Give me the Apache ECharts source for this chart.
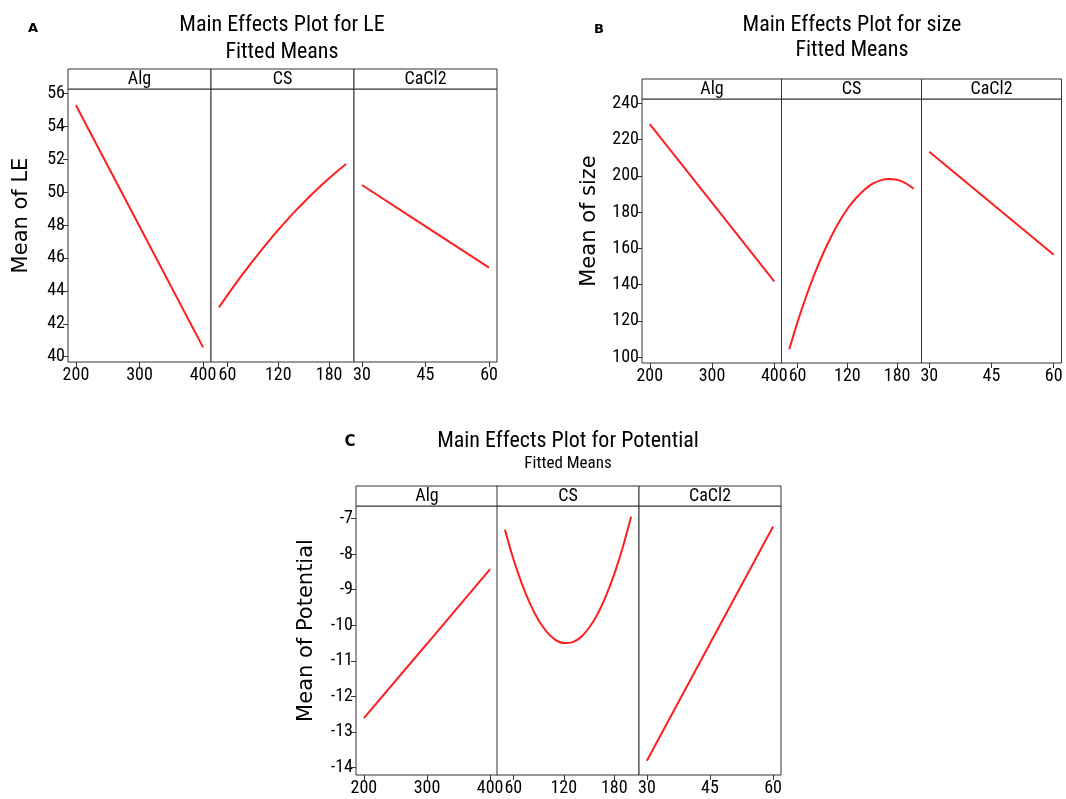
<!DOCTYPE html>
<html>
<head>
<meta charset="utf-8">
<script src="https://cdn.jsdelivr.net/npm/echarts@6/dist/echarts.min.js"></script>
<style>
html, body { margin: 0; padding: 0; background: #fff; }
#main { width: 1066px; height: 799px; }
</style>
</head>
<body>
<div id="main"></div>
<script>
// factors and their levels
var factors = ['Alg', 'CS', 'CaCl2'];
var algX = [200, 300, 400];
var csX = [50, 60, 70, 80, 90, 100, 110, 120, 130, 140, 150, 160, 170, 180, 190, 200];
var cacl2X = [30, 45, 60];
var algTicks = [200, 300, 400];
var csTicks = [60, 120, 180];
var cacl2Ticks = [30, 45, 60];

// A: LE
var leAlg = [55.27, 47.92, 40.57];
var leCS = [43.0, 43.74, 44.46, 45.15, 45.82, 46.47, 47.10, 47.7, 48.28, 48.84, 49.37, 49.88, 50.37, 50.84, 51.28, 51.7];
var leCaCl2 = [50.43, 47.92, 45.41];
var leTicks = [40, 42, 44, 46, 48, 50, 52, 54, 56];

// B: size
var sizeAlg = [228.6, 185.2, 141.7];
var sizeCS = [104.3, 119.4, 133.0, 145.3, 156.3, 166.0, 174.5, 181.7, 187.5, 192.1, 195.5, 197.5, 198.3, 197.8, 196.0, 192.9];
var sizeCaCl2 = [213.3, 184.9, 156.4];
var sizeTicks = [100, 120, 140, 160, 180, 200, 220, 240];

// C: Potential
var potAlg = [-12.61, -10.52, -8.42];
var potCS = [-7.31, -8.13, -8.82, -9.40, -9.86, -10.19, -10.41, -10.50, -10.48, -10.34, -10.07, -9.69, -9.18, -8.56, -7.82, -6.95];
var potCaCl2 = [-13.81, -10.51, -7.22];
var potTicks = [-14, -13, -12, -11, -10, -9, -8, -7];

var narrow = "'Liberation Sans Narrow', 'Roboto Condensed', 'Noto Sans', sans-serif";
var wide = "'DejaVu Sans', 'Noto Sans', sans-serif";
var lineColor = '#333';
var red = '#ff1f1f';

var xData = [algX, csX, cacl2X];
var xTicks = [algTicks, csTicks, cacl2Ticks];
var xRange = [[187.5, 412.5], [40.6, 209.4], [28.125, 61.875]];

var panels = [
    {
        lefts: [68, 211, 354], width: 143, top: 89, height: 273,
        yMin: 39.68, yMax: 56.26, yTicks: leTicks,
        data: [leAlg, leCS, leCaCl2],
        yName: 'Mean of LE', nameX: 22,
        letter: 'A', letterX: 33, letterY: 29, letterSize: 13,
        title: 'Main Effects Plot for LE', titleX: 282, titleY: 25, titleSize: 22,
        sub: 'Fitted Means', subY: 52, subSize: 22
    },
    {
        lefts: [642, 781.5, 921.5], width: 140, top: 99, height: 264,
        yMin: 96.7, yMax: 242.4, yTicks: sizeTicks,
        data: [sizeAlg, sizeCS, sizeCaCl2],
        yName: 'Mean of size', nameX: 590,
        letter: 'B', letterX: 599, letterY: 30, letterSize: 13,
        title: 'Main Effects Plot for size', titleX: 852, titleY: 25, titleSize: 22,
        sub: 'Fitted Means', subY: 50, subSize: 22
    },
    {
        lefts: [356, 497, 639], width: 142, top: 506, height: 269,
        yMin: -14.21, yMax: -6.646, yTicks: potTicks,
        data: [potAlg, potCS, potCaCl2],
        yName: 'Mean of Potential', nameX: 307,
        letter: 'C', letterX: 350, letterY: 442, letterSize: 15,
        title: 'Main Effects Plot for Potential', titleX: 568, titleY: 441, titleSize: 22,
        sub: 'Fitted Means', subY: 464, subSize: 17
    }
];

var grids = [], xAxes = [], yAxes = [], series = [], graphics = [];

panels.forEach(function (p) {
    graphics.push({
        type: 'text', x: p.letterX, y: p.letterY,
        style: { text: p.letter, fontSize: p.letterSize, fontWeight: 'bold', fontFamily: wide, fill: '#000', align: 'center', verticalAlign: 'middle' }
    });
    graphics.push({
        type: 'text', x: p.titleX, y: p.titleY,
        style: { text: p.title, fontSize: p.titleSize, fontFamily: narrow, fill: '#000', align: 'center', verticalAlign: 'middle' }
    });
    graphics.push({
        type: 'text', x: p.titleX, y: p.subY,
        style: { text: p.sub, fontSize: p.subSize, fontFamily: narrow, fill: '#000', align: 'center', verticalAlign: 'middle' }
    });
    // y axis title, centred on plot + strip
    graphics.push({
        type: 'text', x: p.nameX, y: (p.top - 20 + p.top + p.height) / 2, rotation: Math.PI / 2,
        style: { text: p.yName, fontSize: 21, fontFamily: wide, fill: '#000', align: 'center', verticalAlign: 'middle' }
    });

    for (var j = 0; j < 3; j++) {
        var gi = grids.length;
        grids.push({
            left: p.lefts[j], top: p.top, width: p.width, height: p.height,
            show: true, borderColor: lineColor, borderWidth: 1, backgroundColor: '#fff'
        });
        // strip header
        graphics.push({
            type: 'rect',
            shape: { x: p.lefts[j], y: p.top - 20, width: p.width, height: 20 },
            style: { fill: '#fff', stroke: lineColor, lineWidth: 1 }
        });
        graphics.push({
            type: 'text', x: p.lefts[j] + p.width / 2, y: p.top - 10,
            style: { text: factors[j], fontSize: 18, fontFamily: narrow, fill: '#000', align: 'center', verticalAlign: 'middle' }
        });

        xAxes.push({
            type: 'value', gridIndex: gi, min: xRange[j][0], max: xRange[j][1],
            axisLine: { show: false },
            splitLine: { show: false },
            axisTick: { show: true, length: 5, customValues: xTicks[j], lineStyle: { color: lineColor } },
            axisLabel: { customValues: xTicks[j], fontSize: 18, fontFamily: narrow, color: '#000', margin: 4 }
        });
        yAxes.push({
            type: 'value', gridIndex: gi, min: p.yMin, max: p.yMax,
            axisLine: { show: false },
            splitLine: { show: false },
            axisTick: { show: j === 0, length: 5, customValues: p.yTicks, lineStyle: { color: lineColor } },
            axisLabel: { show: j === 0, customValues: p.yTicks, fontSize: 18, fontFamily: narrow, color: '#000', margin: 3 }
        });
        var pts = xData[j].map(function (x, k) { return [x, p.data[j][k]]; });
        series.push({
            type: 'line', xAxisIndex: gi, yAxisIndex: gi,
            data: pts, showSymbol: false, smooth: j === 1 ? 0.3 : false,
            lineStyle: { color: red, width: 2 }, silent: true, animation: false
        });
    }
});

var chart = echarts.init(document.getElementById('main'));
chart.setOption({
    backgroundColor: '#fff',
    animation: false,
    grid: grids,
    xAxis: xAxes,
    yAxis: yAxes,
    series: series,
    graphic: graphics
});
</script>
</body>
</html>
